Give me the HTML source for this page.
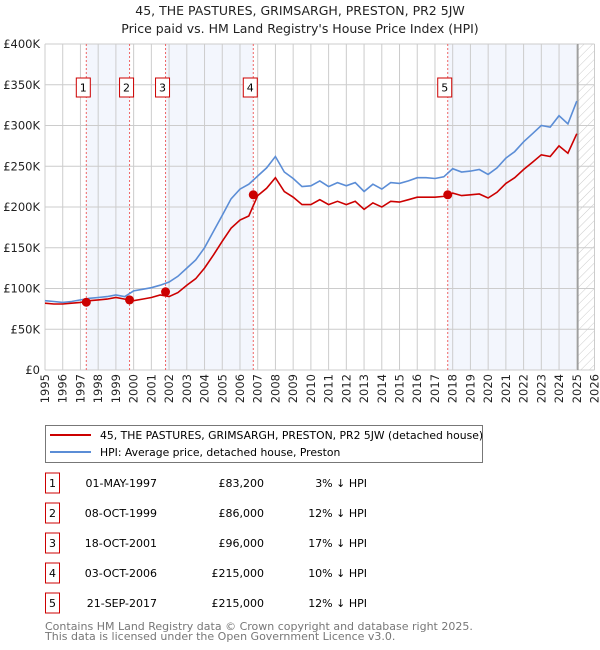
<!DOCTYPE html>
<html><head><meta charset="utf-8"><style>
body{margin:0;background:#fff;}
svg{display:block;font-family:"DejaVu Sans","Liberation Sans",sans-serif;}
</style></head><body>
<svg id="c" width="600" height="650" viewBox="0 0 600 650">
<defs><pattern id="hatch" width="6" height="6" patternUnits="userSpaceOnUse" patternTransform="rotate(45)"><line x1="0" y1="0" x2="0" y2="6" stroke="#ccc" stroke-width="1"/></pattern></defs>
<text x="300" y="15" text-anchor="middle" font-size="12.5" fill="#222">45, THE PASTURES, GRIMSARGH, PRESTON, PR2 5JW</text>
<text x="300" y="33" text-anchor="middle" font-size="12.5" fill="#222">Price paid vs. HM Land Registry's House Price Index (HPI)</text>
<g id="plot"></g>
<g>
<rect x="45.5" y="425.5" width="437" height="37" fill="#fff" stroke="#777"/>
<line x1="50" y1="435" x2="91" y2="435" stroke="#cc0000" stroke-width="2"/>
<text x="100" y="439" font-size="10.8" fill="#000">45, THE PASTURES, GRIMSARGH, PRESTON, PR2 5JW (detached house)</text>
<line x1="50" y1="452" x2="91" y2="452" stroke="#5b8dd6" stroke-width="2"/>
<text x="100" y="456" font-size="10.8" fill="#000">HPI: Average price, detached house, Preston</text>
</g>
<g id="table"></g>
<text x="45" y="630" font-size="11" fill="#777">Contains HM Land Registry data © Crown copyright and database right 2025.</text>
<text x="45" y="640" font-size="11" fill="#777">This data is licensed under the Open Government Licence v3.0.</text>
</svg>
<script>
const years=[1995,1995.5,1996,1996.5,1997,1997.5,1998,1998.5,1999,1999.5,2000,2000.5,2001,2001.5,2002,2002.5,2003,2003.5,2004,2004.5,2005,2005.5,2006,2006.5,2007,2007.5,2008,2008.5,2009,2009.5,2010,2010.5,2011,2011.5,2012,2012.5,2013,2013.5,2014,2014.5,2015,2015.5,2016,2016.5,2017,2017.5,2018,2018.5,2019,2019.5,2020,2020.5,2021,2021.5,2022,2022.5,2023,2023.5,2024,2024.5,2025];
const hpiValues=[85,84,83,84,86,88,89,90,92,90,97,99,101,104,108,115,125,135,150,170,190,210,222,228,238,248,262,243,235,225,226,232,225,230,226,230,219,228,222,230,229,232,236,236,235,237,247,243,244,246,240,248,260,268,280,290,300,298,312,302,330];
const priceValues=[82,81,81,82,83,85,86,87,89,87,85,87,89,92,90,95,104,112,125,141,158,174,184,189,214,223,236,219,212,203,203,209,203,207,203,207,197,205,200,207,206,209,212,212,212,213,217,214,215,216,211,218,229,236,246,255,264,262,275,266,290];
const saleDates=[1997.33,1999.77,2001.8,2006.75,2017.72];
const salePrices=[83.2,86,96,215,215];
const saleLabels=["1","2","3","4","5"];
const yTicks=[0,50,100,150,200,250,300,350,400];
const yTickLabels=["£0","£50K","£100K","£150K","£200K","£250K","£300K","£350K","£400K"];
const tableDates=["01-MAY-1997","08-OCT-1999","18-OCT-2001","03-OCT-2006","21-SEP-2017"];
const tablePrices=["£83,200","£86,000","£96,000","£215,000","£215,000"];
const tablePcts=["3%","12%","17%","10%","12%"];

const X0=45,X1=594.5,Y0=370,Y1=44,xMin=1995,xMax=2026,yMax=400,dataEnd=2025.06;
const xs=v=>X0+(v-xMin)/(xMax-xMin)*(X1-X0);
const ys=v=>Y0-v/yMax*(Y0-Y1);
const NS="http://www.w3.org/2000/svg";
const plot=document.getElementById('plot');
function mk(tag,attrs,parent){const e=document.createElementNS(NS,tag);for(const k in attrs)e.setAttribute(k,attrs[k]);(parent||plot).appendChild(e);return e;}

const bands=[[saleDates[0],saleDates[1]],[saleDates[2],saleDates[3]],[saleDates[4],dataEnd]];
bands.forEach((b,i)=>{const r=mk('rect',{x:xs(b[0]),y:Y1,width:xs(b[1])-xs(b[0]),height:Y0-Y1,fill:'#f3f6fd'});

});
const h=mk('rect',{x:xs(dataEnd),y:Y1,width:X1-xs(dataEnd),height:Y0-Y1,fill:'url(#hatch)'});


for(let yr=xMin;yr<=xMax;yr++){const l=mk('line',{x1:xs(yr),x2:xs(yr),y1:Y1,y2:Y0,stroke:'#ccc','stroke-width':1});


const t=mk('text',{x:0,y:0,'font-size':11.5,fill:'#222','text-anchor':'end',transform:`translate(${xs(yr)+4},${Y0+4}) rotate(-90)`});
t.textContent=yr;

}
yTicks.forEach((v,i)=>{const l=mk('line',{x1:X0,x2:X1,y1:ys(v),y2:ys(v),stroke:'#ccc','stroke-width':1});


const t=mk('text',{x:X0-5,y:ys(v)+4,'font-size':11.5,fill:'#222','text-anchor':'end'});
t.textContent=yTickLabels[i];

});
const de=mk('line',{x1:xs(dataEnd),x2:xs(dataEnd),y1:Y1,y2:Y0,stroke:'#999','stroke-width':1.5});


saleDates.forEach((d,i)=>{const l=mk('line',{x1:xs(d),x2:xs(d),y1:Y1,y2:Y0,stroke:'#ee6666','stroke-width':1,'stroke-dasharray':'2,2'});


const g=mk('g',{});


mk('rect',{x:xs(d)-7-3,y:78,width:14,height:19,fill:'#fff',stroke:'#cc0000'},g);
const t=mk('text',{x:xs(d)-3,y:91.5,'font-size':11,'text-anchor':'middle',fill:'#000'},g);t.textContent=saleLabels[i];});
function path(vals){return vals.map((v,i)=>(i?'L':'M')+xs(years[i]).toFixed(1)+','+ys(v).toFixed(1)).join('');}
const hp=mk('path',{d:path(hpiValues),fill:'none',stroke:'#5b8dd6','stroke-width':1.6});


const pp=mk('path',{d:path(priceValues),fill:'none',stroke:'#cc0000','stroke-width':1.6});


saleDates.forEach((d,i)=>{const c=mk('circle',{cx:xs(d),cy:ys(salePrices[i]),r:4.5,fill:'#cc0000'});

});
const tb=document.getElementById('table');
tableDates.forEach((d,i)=>{const cy=483+i*30;
const g=mk('g',{},tb);


mk('rect',{x:45.5,y:cy-10,width:14,height:20,fill:'#fff',stroke:'#cc0000'},g);
const n=mk('text',{x:52.5,y:cy+4,'font-size':11,'text-anchor':'middle'},g);n.textContent=saleLabels[i];
const a=mk('text',{x:157,y:cy+4,'font-size':11,'text-anchor':'end'},g);a.textContent=d;
const b=mk('text',{x:264,y:cy+4,'font-size':11,'text-anchor':'end'},g);b.textContent=tablePrices[i];
const c=mk('text',{x:367,y:cy+4,'font-size':11,'text-anchor':'end'},g);c.textContent=tablePcts[i]+' ↓ HPI';});
</script>
</body></html>
